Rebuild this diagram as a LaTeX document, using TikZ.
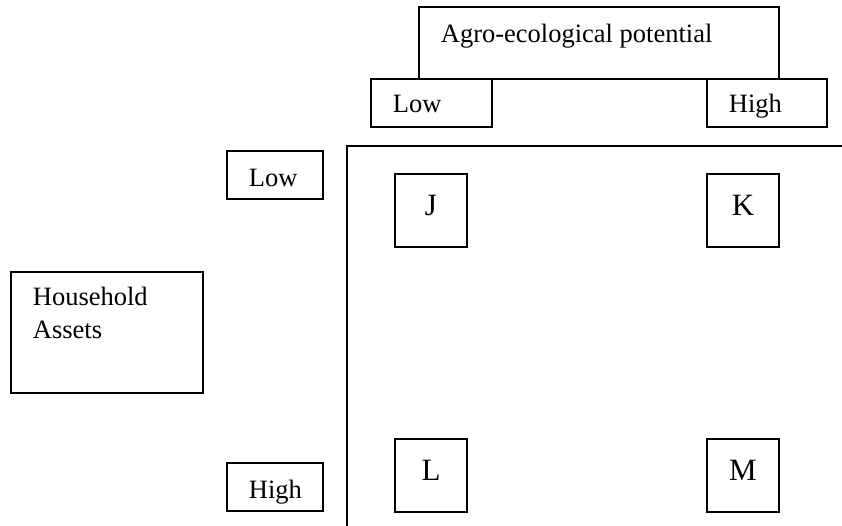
\documentclass[tikz,border=0pt]{standalone}
\usepackage{fontspec}
\setmainfont{Liberation Serif}
\begin{document}
\begin{tikzpicture}[x=1pt,y=-1pt,line width=1.8pt,font=\fontsize{26.5}{33}\selectfont,
	lbl/.style={anchor=base west,inner sep=0pt},
	cell/.style={draw,minimum width=72pt,minimum height=73pt,inner sep=0pt,
		font=\fontsize{31}{36}\selectfont,text height=20.5pt,text depth=10pt}]
	\useasboundingbox (0,0) rectangle (842,526);
	% header boxes
	\draw (419,7) rectangle (779,79);
	\node[lbl] (agro) at (440,43) {Agro-ecological potential};
	\draw (371,79) rectangle (492,127);
	\node[lbl] (potlow) at (392,113) {Low};
	\draw (707,79) rectangle (827,127);
	\node[lbl] (pothigh) at (728,113) {High};
	% axes
	\draw (347,526) -- (347,146) -- (842,146);
	% row labels
	\draw (227,151) rectangle (323,199);
	\node[lbl] (assetlow) at (248,187) {Low};
	\draw (227,463) rectangle (323,511);
	\node[lbl] (assethigh) at (248,498) {High};
	\draw (11,272) rectangle (203,393);
	\node[lbl] (house) at (32,305) {Household};
	\node[lbl] (assets) at (32,338) {Assets};
	% cells
	\node[cell] (J) at (431,210.5) {J};
	\node[cell] (K) at (743,210.5) {K};
	\node[cell] (L) at (431,475.5) {L};
	\node[cell] (M) at (743,475.5) {M};
\end{tikzpicture}
\end{document}
